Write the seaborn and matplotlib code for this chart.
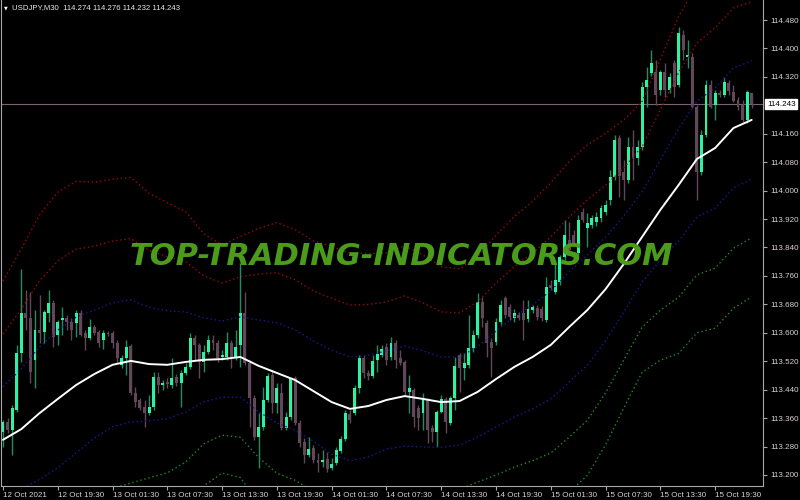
import matplotlib
matplotlib.use("Agg")
import matplotlib.pyplot as plt
import matplotlib.transforms as mtransforms
from matplotlib import font_manager
import seaborn as sns
import numpy as np

# ---- USDJPY M30 candles, 12 Oct 13:30 -> 15 Oct 23:30 ----
opens = [
    113.320, 113.349, 113.326, 113.383, 113.543, 113.656, 113.642, 113.523, 113.608, 113.602,
    113.656, 113.684, 113.594, 113.636, 113.642, 113.630, 113.627, 113.656, 113.599, 113.585,
    113.616, 113.602, 113.580, 113.599, 113.599, 113.571, 113.509, 113.529, 113.563, 113.430,
    113.411, 113.391, 113.374, 113.391, 113.475, 113.453, 113.461, 113.453, 113.475, 113.458,
    113.487, 113.504, 113.585, 113.565, 113.518, 113.546, 113.580, 113.571, 113.532, 113.532,
    113.571, 113.532, 113.565, 113.656, 113.515, 113.416, 113.307, 113.335, 113.411, 113.481,
    113.402, 113.430, 113.332, 113.363, 113.472, 113.346, 113.293, 113.256, 113.276, 113.242,
    113.236, 113.245, 113.219, 113.234, 113.267, 113.301, 113.371, 113.374, 113.444, 113.529,
    113.487, 113.478, 113.523, 113.537, 113.560, 113.532, 113.571, 113.529, 113.518, 113.433,
    113.439, 113.388, 113.374, 113.411, 113.332, 113.321, 113.377, 113.414, 113.346, 113.416,
    113.537, 113.501, 113.509, 113.557, 113.594, 113.687, 113.627, 113.574, 113.574, 113.630,
    113.698, 113.672, 113.642, 113.650, 113.656, 113.639, 113.664, 113.670, 113.667, 113.636,
    113.734, 113.715, 113.743, 113.813, 113.861, 113.875, 113.825, 113.940, 113.895, 113.903,
    113.912, 113.923, 113.940, 113.974, 114.038, 114.148, 114.052, 114.030, 114.122, 114.092,
    114.122, 114.291, 114.331, 114.333, 114.283, 114.333, 114.283, 114.359, 114.297, 114.437,
    114.376, 114.376, 114.235, 114.052, 114.156, 114.297, 114.241, 114.274, 114.269, 114.303,
    114.277, 114.255, 114.241, 114.198, 114.274,
]
highs = [
    113.354, 113.360, 113.397, 113.565, 113.779, 113.720, 113.715, 113.664, 113.706, 113.664,
    113.720, 113.692, 113.636, 113.672, 113.650, 113.642, 113.664, 113.664, 113.608, 113.639,
    113.622, 113.608, 113.608, 113.605, 113.605, 113.580, 113.537, 113.580, 113.568, 113.447,
    113.416, 113.411, 113.425, 113.489, 113.489, 113.467, 113.472, 113.529, 113.484, 113.495,
    113.515, 113.599, 113.594, 113.571, 113.565, 113.594, 113.594, 113.580, 113.551, 113.602,
    113.580, 113.608, 113.796, 113.715, 113.523, 113.425, 113.374, 113.447, 113.487, 113.495,
    113.459, 113.459, 113.377, 113.475, 113.478, 113.354, 113.304, 113.307, 113.284, 113.262,
    113.270, 113.265, 113.248, 113.279, 113.310, 113.383, 113.383, 113.453, 113.537, 113.537,
    113.495, 113.537, 113.565, 113.565, 113.571, 113.588, 113.580, 113.551, 113.523, 113.481,
    113.444, 113.397, 113.430, 113.416, 113.340, 113.383, 113.425, 113.419, 113.422, 113.532,
    113.543, 113.543, 113.650, 113.608, 113.712, 113.701, 113.636, 113.585, 113.642, 113.692,
    113.703, 113.681, 113.667, 113.658, 113.692, 113.692, 113.678, 113.678, 113.675, 113.757,
    113.748, 113.805, 113.819, 113.917, 113.911, 113.889, 113.931, 113.951, 113.937, 113.931,
    113.940, 113.959, 113.974, 114.058, 114.156, 114.156, 114.086, 114.151, 114.170, 114.142,
    114.305, 114.348, 114.395, 114.367, 114.339, 114.359, 114.331, 114.367, 114.460, 114.452,
    114.423, 114.387, 114.241, 114.170, 114.311, 114.311, 114.283, 114.283, 114.319, 114.311,
    114.297, 114.263, 114.255, 114.283, 114.276,
]
lows = [
    113.278, 113.318, 113.256, 113.377, 113.518, 113.608, 113.459, 113.445, 113.571, 113.571,
    113.630, 113.560, 113.565, 113.594, 113.608, 113.580, 113.588, 113.591, 113.551, 113.580,
    113.594, 113.560, 113.554, 113.591, 113.557, 113.515, 113.501, 113.481, 113.425, 113.391,
    113.383, 113.335, 113.369, 113.383, 113.430, 113.439, 113.444, 113.444, 113.450, 113.391,
    113.481, 113.498, 113.523, 113.473, 113.490, 113.540, 113.551, 113.518, 113.523, 113.523,
    113.501, 113.523, 113.504, 113.509, 113.335, 113.298, 113.220, 113.326, 113.405, 113.374,
    113.374, 113.326, 113.326, 113.354, 113.340, 113.278, 113.234, 113.250, 113.234, 113.208,
    113.222, 113.208, 113.214, 113.228, 113.262, 113.295, 113.346, 113.369, 113.430, 113.473,
    113.467, 113.473, 113.490, 113.532, 113.509, 113.523, 113.501, 113.509, 113.425, 113.374,
    113.335, 113.326, 113.326, 113.290, 113.293, 113.278, 113.374, 113.318, 113.340, 113.383,
    113.433, 113.467, 113.501, 113.546, 113.585, 113.616, 113.532, 113.475, 113.565, 113.622,
    113.642, 113.636, 113.630, 113.636, 113.580, 113.630, 113.656, 113.636, 113.633, 113.630,
    113.720, 113.709, 113.734, 113.805, 113.819, 113.847, 113.819, 113.912, 113.841, 113.895,
    113.900, 113.912, 113.931, 113.959, 114.030, 113.982, 113.974, 114.021, 114.030, 114.072,
    114.114, 114.235, 114.322, 114.241, 114.269, 114.263, 114.274, 114.263, 114.291, 114.367,
    114.345, 114.232, 113.974, 114.044, 114.151, 114.232, 114.198, 114.263, 114.263, 114.269,
    114.249, 114.227, 114.193, 114.190, 114.232,
]
closes = [
    113.349, 113.326, 113.388, 113.543, 113.656, 113.642, 113.490, 113.608, 113.599, 113.658,
    113.684, 113.588, 113.630, 113.642, 113.630, 113.608, 113.656, 113.594, 113.585, 113.616,
    113.599, 113.571, 113.599, 113.596, 113.571, 113.529, 113.529, 113.560, 113.430, 113.405,
    113.388, 113.374, 113.391, 113.475, 113.453, 113.458, 113.455, 113.472, 113.458, 113.487,
    113.504, 113.585, 113.565, 113.518, 113.546, 113.580, 113.571, 113.529, 113.537, 113.571,
    113.532, 113.560, 113.656, 113.515, 113.416, 113.307, 113.335, 113.411, 113.478, 113.402,
    113.444, 113.332, 113.363, 113.472, 113.346, 113.290, 113.256, 113.273, 113.242, 113.234,
    113.242, 113.217, 113.231, 113.270, 113.301, 113.374, 113.354, 113.444, 113.529, 113.487,
    113.478, 113.520, 113.540, 113.554, 113.523, 113.571, 113.523, 113.515, 113.433, 113.444,
    113.363, 113.360, 113.414, 113.326, 113.321, 113.377, 113.414, 113.349, 113.416, 113.506,
    113.501, 113.515, 113.557, 113.594, 113.687, 113.642, 113.571, 113.557, 113.630, 113.678,
    113.650, 113.644, 113.656, 113.642, 113.636, 113.667, 113.672, 113.644, 113.642, 113.729,
    113.726, 113.748, 113.813, 113.875, 113.833, 113.853, 113.917, 113.917, 113.909, 113.923,
    113.926, 113.951, 113.959, 114.038, 114.142, 114.041, 114.030, 114.122, 114.092, 114.122,
    114.291, 114.311, 114.359, 114.269, 114.333, 114.283, 114.319, 114.291, 114.443, 114.395,
    114.381, 114.235, 114.052, 114.156, 114.297, 114.235, 114.274, 114.269, 114.305, 114.280,
    114.252, 114.235, 114.198, 114.277, 114.243,
]

# ---- band indicator (centre line + half width), read every 4 bars ----
band_bars = [0, 4, 8, 12, 16, 20, 24, 28, 32, 36, 40, 44, 48, 52, 56, 60, 64, 68, 72, 76, 80,
             84, 88, 92, 96, 100, 104, 108, 112, 116, 120, 124, 128, 132, 136, 140, 144, 148,
             152, 156, 160, 164]
ma_line = [113.299, 113.329, 113.374, 113.414, 113.453, 113.484, 113.510, 113.521, 113.512,
           113.510, 113.518, 113.524, 113.526, 113.532, 113.507, 113.487, 113.467, 113.436,
           113.405, 113.386, 113.394, 113.411, 113.422, 113.414, 113.405, 113.408, 113.434,
           113.470, 113.504, 113.532, 113.566, 113.616, 113.664, 113.723, 113.794, 113.870,
           113.946, 114.016, 114.089, 114.120, 114.176, 114.199]
band_width = [0.149, 0.169, 0.186, 0.194, 0.191, 0.180, 0.174, 0.172, 0.160, 0.152, 0.141,
              0.118, 0.107, 0.113, 0.129, 0.141, 0.141, 0.141, 0.146, 0.146, 0.143, 0.138,
              0.141, 0.135, 0.127, 0.124, 0.127, 0.135, 0.141, 0.146, 0.152, 0.155, 0.155,
              0.146, 0.135, 0.127, 0.141, 0.158, 0.163, 0.169, 0.169, 0.166]

# 114.240 sits under the current-price box, so it is not labelled
price_ticks = [113.200, 113.280, 113.360, 113.440, 113.520, 113.600, 113.680, 113.760,
               113.840, 113.920, 114.000, 114.080, 114.160, 114.320, 114.400, 114.480]
time_bars = [0, 12, 24, 36, 48, 60, 72, 84, 96, 108, 120, 132, 144, 156]
time_labels = ["12 Oct 2021", "12 Oct 19:30", "13 Oct 01:30", "13 Oct 07:30", "13 Oct 13:30",
               "13 Oct 19:30", "14 Oct 01:30", "14 Oct 07:30", "14 Oct 13:30", "14 Oct 19:30",
               "15 Oct 01:30", "15 Oct 07:30", "15 Oct 13:30", "15 Oct 19:30"]
last_price = 114.243
title = "USDJPY,M30  114.274 114.276 114.232 114.243"
watermark = "TOP-TRADING-INDICATORS.COM"

sns.set_theme(style="dark", rc={"axes.facecolor": "black", "figure.facecolor": "black"})
plt.rcParams['font.family'] = ['Liberation Sans', 'DejaVu Sans']

BULL, BULL_WICK = '#2cf2a6', '#1b8f62'
BEAR = '#62475a'
AXIS = '#a8a8a8'
LABEL = '#dcd0d6'

fig = plt.figure(figsize=(8, 5), dpi=100)
ax = fig.add_axes([1 / 800, 14 / 500, 762 / 800, 486 / 500])
ax.set_facecolor('black')

o = np.array(opens); h = np.array(highs); l = np.array(lows); c = np.array(closes)
x = np.arange(len(o))
up = c >= o
body_lo = np.minimum(o, c)
body_h = np.maximum(np.abs(c - o), 0.003)

# watermark first so it sits behind the candles
names = {f.name for f in font_manager.fontManager.ttflist}
wm_family = next((n for n in ['Liberation Sans Narrow', 'DejaVu Sans'] if n in names), 'DejaVu Sans')
wm = fig.text(401 / 800, 1 - 265 / 500, watermark, ha='center', va='baseline',
              fontsize=30, fontweight='bold', fontstyle='italic', family=wm_family,
              color='#4c9c1c', zorder=0)

ax.axhline(last_price, color='#7a6270', lw=0.8, zorder=1)

ax.vlines(x[up], l[up], h[up], color=BULL_WICK, lw=1, zorder=3)
ax.vlines(x[~up], l[~up], h[~up], color=BEAR, lw=1, zorder=3)
ax.bar(x[up], body_h[up], bottom=body_lo[up], width=0.64, color=BULL, linewidth=0, zorder=4)
ax.bar(x[~up], body_h[~up], bottom=body_lo[~up], width=0.64, color=BEAR, linewidth=0, zorder=4)

ma = np.array(ma_line); w = np.array(band_width)
dots = (0, (1, 2))
for k, col in [(3, '#9a0a0a'), (2, '#9a0a0a'), (1, '#1a1a9a'), (-1, '#1a1a9a'),
               (-2, '#1f8a2a'), (-3, '#1f8a2a')]:
    sns.lineplot(x=band_bars, y=ma + k * w, ax=ax, color=col, lw=1.0, linestyle=dots, zorder=5)
sns.lineplot(x=band_bars, y=ma, ax=ax, color='white', lw=1.4, zorder=6)

ax.set_xlim(-0.44, 166.48)
ax.set_ylim(113.1690, 114.5363)
ax.set_xlabel('')
ax.set_ylabel('')
ax.grid(False)

ax.yaxis.tick_right()
ax.set_yticks(price_ticks)
ax.set_yticklabels([f"{p:.3f}" for p in price_ticks])
ax.set_xticks(time_bars)
ax.set_xticklabels(time_labels, ha='left')
ax.tick_params(axis='y', which='both', right=True, left=False, length=3, width=0.8, color=AXIS,
               labelcolor=LABEL, labelsize=5.8, pad=2, direction='out')
ax.tick_params(axis='x', bottom=True, length=3, width=0.8, color=AXIS,
               labelcolor=LABEL, labelsize=5.8, pad=1, direction='out')
for side in ['left', 'bottom', 'right']:
    ax.spines[side].set_visible(True)
    ax.spines[side].set_color(AXIS)
    ax.spines[side].set_linewidth(0.8)
ax.spines['top'].set_visible(False)

tr = mtransforms.blended_transform_factory(ax.transAxes, ax.transData)
ax.text(1 + 4 / 762, last_price, f"{last_price:.3f}", transform=tr, ha='left', va='center',
        fontsize=5.8, color='black', clip_on=False,
        bbox=dict(boxstyle='square,pad=0.2', fc='white', ec='white'))

fig.text(4 / 800, 1 - 8 / 500, '\u25bc', fontsize=3.5, color='white', va='center',
         family='DejaVu Sans')
fig.text(12 / 800, 1 - 8 / 500, title, fontsize=5.6, color='#e8e8e8', va='center', ha='left')

# fit the watermark to the width seen in the reference
fig.canvas.draw()
ww = wm.get_window_extent().width
wm.set_fontsize(30 * 542 / ww)

fig.savefig('out.png', dpi=100, facecolor='black')
